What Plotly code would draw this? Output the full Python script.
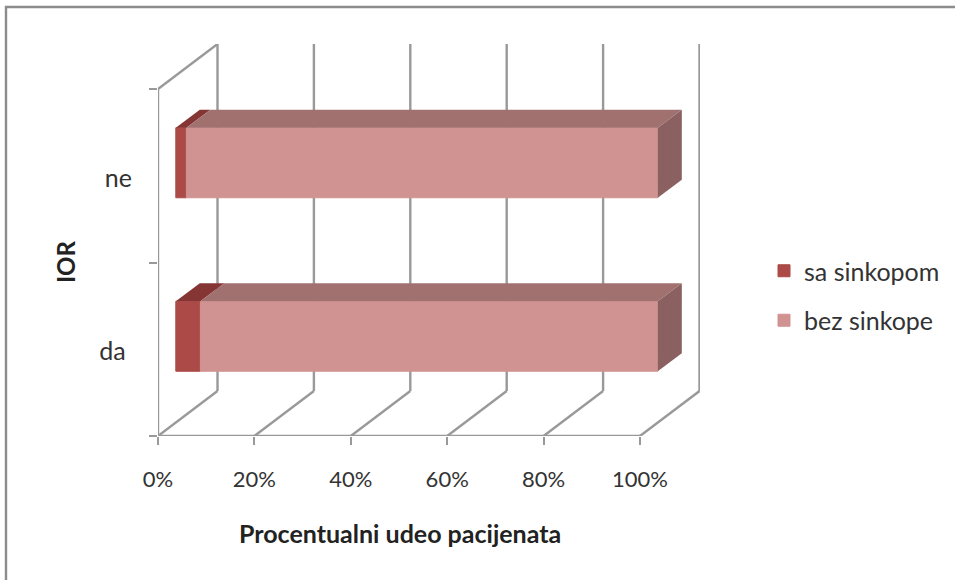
import plotly.graph_objects as go

# ---- data ----
categories = ["da", "ne"]
y_tick_labels = ["da\u00a0", "ne"]
sa_sinkopom = [5.1, 2.2]
bez_sinkope = [94.9, 97.8]
series_names = ["sa sinkopom", "bez sinkope"]
x_ticks = [0, 20, 40, 60, 80, 100]
x_tick_labels = ["0%", "20%", "40%", "60%", "80%", "100%"]

# ---- layout geometry ----
W, H = 955, 580
L, R, T, B = 158, 700, 44, 436      # plot box in px
PX_X = 4.82                         # px per percent
PX_Y = 173.5                        # px per category
WALL_DX, WALL_DY = 59.5 / PX_X, 45 / PX_Y   # depth of the chart box
BAR_OX, BAR_OY = 17.8 / PX_X, 13 / PX_Y     # front of bar from front of box
BAR_DX, BAR_DY = 24 / PX_X, 18 / PX_Y       # depth of a bar
BAR_H = 70 / PX_Y
LABEL_SHIFT = 2 / PX_Y
GRID = "#999999"
FRONT = ["#AB4A47", "#D19392"]
TOP = ["#853634", "#A17170"]
SIDE = ["#7A3030", "#8A6160"]
FONT = "Lato, Carlito, sans-serif"
TXT = "#333333"

fig = go.Figure()
y_cat = list(range(len(categories)))
y_front = [i + 0.5 + BAR_OY for i in y_cat]
series = [sa_sinkopom, bez_sinkope]

# front faces
bases = [[BAR_OX] * len(categories),
         [BAR_OX + v for v in sa_sinkopom]]
for s, vals in enumerate(series):
    fig.add_trace(go.Bar(
        y=y_front, x=vals, base=bases[s], width=BAR_H, orientation="h",
        name=series_names[s], marker=dict(color=FRONT[s], line=dict(width=1, color=FRONT[s])),
        legendgroup=series_names[s],
    ))

# top and end faces, derived from the values
def poly(xs, ys, color):
    fig.add_trace(go.Scatter(
        x=xs, y=ys, mode="lines", fill="toself", fillcolor=color,
        line=dict(width=0), showlegend=False, hoverinfo="skip",
    ))

for i, yc in enumerate(y_front):
    yt = yc + BAR_H / 2
    yb = yc - BAR_H / 2
    for s, vals in enumerate(series):
        a = bases[s][i]
        b = a + vals[i]
        poly([a, b, b + BAR_DX, a + BAR_DX, a],
             [yt, yt, yt + BAR_DY, yt + BAR_DY, yt], TOP[s])
    end = bases[1][i] + bez_sinkope[i]
    poly([end, end + BAR_DX, end + BAR_DX, end, end],
         [yb, yb + BAR_DY, yt + BAR_DY, yt, yb], SIDE[1])

# wall and floor grid
y_top = len(categories)
def seg(x0, y0, x1, y1):
    return dict(type="line", xref="x", yref="y", x0=x0, y0=y0, x1=x1, y1=y1,
                layer="below", line=dict(color=GRID, width=2.4))

shapes = [
    seg(0, 0, 0, y_top),
    seg(0, y_top, WALL_DX, y_top + WALL_DY),
    seg(0, 0, x_ticks[-1], 0),
]
for t in x_ticks:
    shapes.append(seg(t, 0, t + WALL_DX, WALL_DY))
    shapes.append(seg(t + WALL_DX, WALL_DY, t + WALL_DX, y_top + WALL_DY))

# outer frame: only the top and left edges are visible in the picture
PW, PH = R - L, B - T
frame = dict(type="line", xref="paper", yref="paper", layer="below",
             line=dict(color="#8c8c8c", width=2.4))
shapes.append(dict(frame, x0=(5 - L) / PW, x1=(W - L) / PW, y0=(B - 7) / PH, y1=(B - 7) / PH))
shapes.append(dict(frame, x0=(6 - L) / PW, x1=(6 - L) / PW, y0=(B - 6) / PH, y1=(B - H) / PH))

# axis titles
annotations = [
    dict(text="<b>Procentualni udeo pacijenata</b>", xref="paper", yref="paper",
         x=(400 - L) / PW, y=(B - 533) / PH, showarrow=False,
         xanchor="center", yanchor="middle",
         font=dict(family=FONT, size=25, color="#222222")),
    dict(text="<b>IOR</b>", xref="paper", yref="paper",
         x=(65 - L) / PW, y=(B - 262) / PH, showarrow=False, textangle=-90,
         xanchor="center", yanchor="middle",
         font=dict(family=FONT, size=24, color="#222222")),
]

fig.update_layout(
    width=W, height=H,
    margin=dict(l=L, r=W - R, t=T, b=H - B, pad=0),
    paper_bgcolor="white", plot_bgcolor="white",
    barmode="overlay",
    shapes=shapes, annotations=annotations,
    showlegend=True,
    legend=dict(xref="container", yref="container",
                x=764 / W, y=1 - 248 / H, xanchor="left", yanchor="top",
                tracegroupgap=14, bgcolor="rgba(0,0,0,0)",
                font=dict(family=FONT, size=25, color=TXT)),
    xaxis=dict(range=[0, PW / PX_X], tickmode="array", tickvals=x_ticks,
               ticktext=x_tick_labels, ticks="outside", ticklen=8, tickwidth=2,
               tickcolor=GRID, showgrid=False, zeroline=False, showline=False,
               ticklabelstandoff=16,
               tickfont=dict(family=FONT, size=22, color=TXT)),
    yaxis=dict(range=[0, PH / PX_Y], tickmode="array", tickvals=[0, 1, 2],
               showticklabels=False, ticks="outside", ticklen=8, tickwidth=2,
               tickcolor=GRID, showgrid=False, zeroline=False, showline=False),
    yaxis2=dict(range=[0, PH / PX_Y], overlaying="y", side="left",
                tickmode="array", tickvals=[i + 0.5 - LABEL_SHIFT for i in y_cat],
                ticktext=y_tick_labels, ticks="", showgrid=False, zeroline=False,
                showline=False, ticklabelstandoff=25,
                tickfont=dict(family=FONT, size=25, color=TXT)),
)
# binds the category-label axis to the subplot
fig.add_trace(go.Scatter(x=[None], y=[None], yaxis="y2", showlegend=False, hoverinfo="skip"))

fig.write_html("out.html", config={"displayModeBar": False},
               post_script="document.body.style.margin='0';")
